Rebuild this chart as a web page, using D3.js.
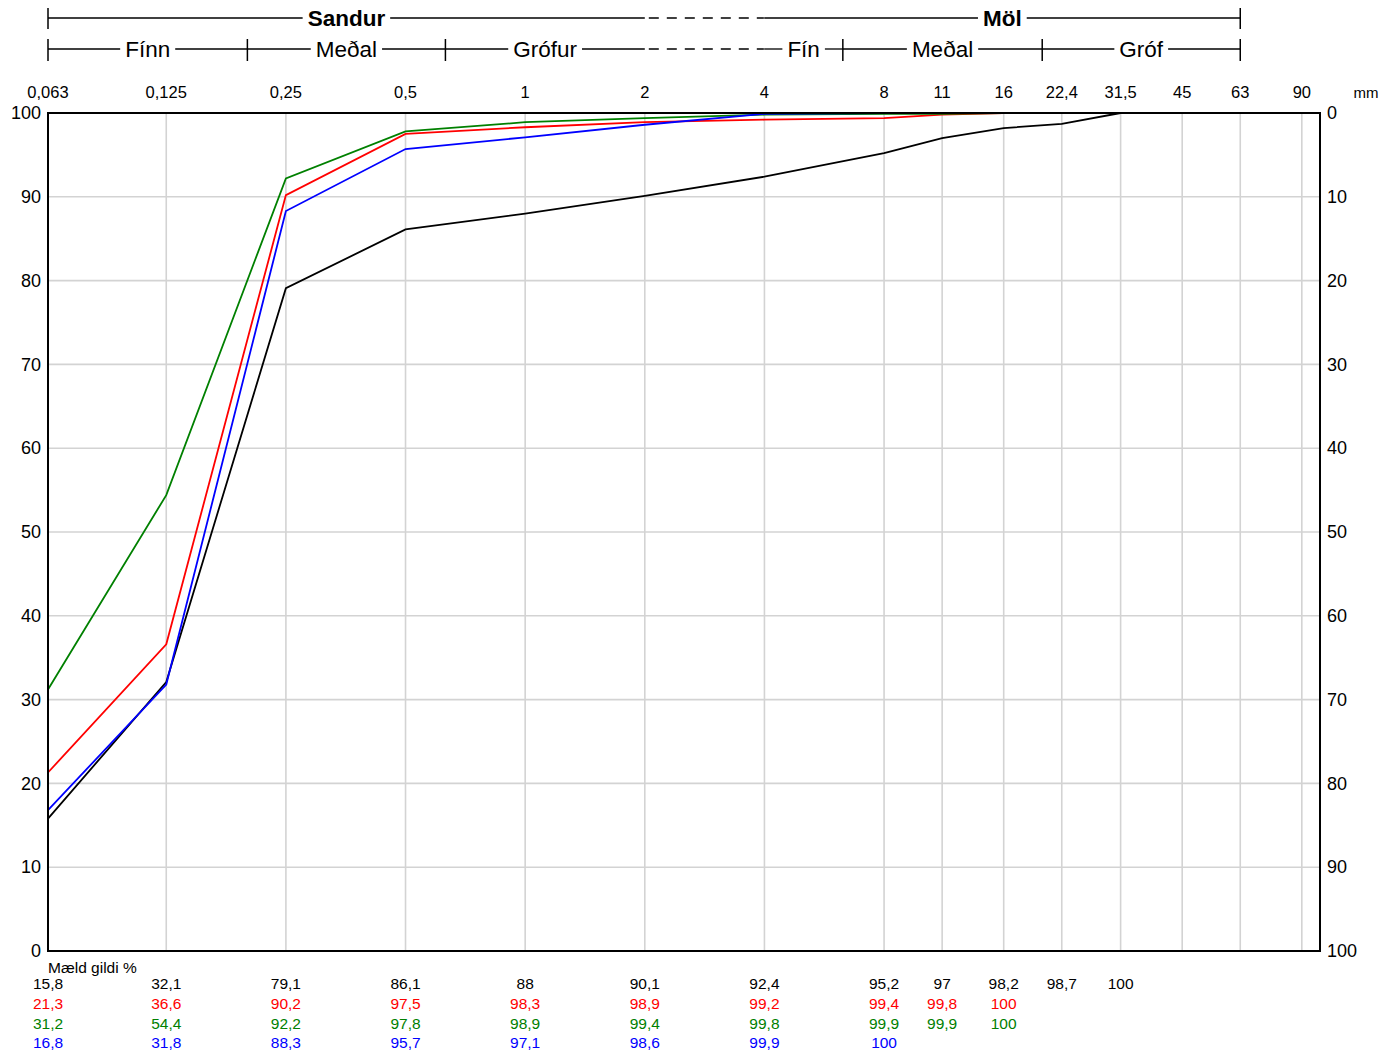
<!DOCTYPE html>
<html>
<head>
<meta charset="utf-8">
<script src="https://cdn.jsdelivr.net/npm/d3@7"></script>
<style>
  body { margin: 0; background: #fff; }
  text { font-family: "Liberation Sans", Arial, sans-serif; }
</style>
</head>
<body>
<div id="chart"></div>
<script>
// sieve sizes (mm) and their printed labels ("11" is the 11.2 mm sieve)
var sieves = [0.063, 0.125, 0.25, 0.5, 1, 2, 4, 8, 11.2, 16, 22.4, 31.5, 45, 63, 90];
var sieveLabels = ["0,063", "0,125", "0,25", "0,5", "1", "2", "4", "8", "11", "16", "22,4", "31,5", "45", "63", "90"];

// passing % per sample
var blackVals = [15.8, 32.1, 79.1, 86.1, 88, 90.1, 92.4, 95.2, 97, 98.2, 98.7, 100];
var redVals   = [21.3, 36.6, 90.2, 97.5, 98.3, 98.9, 99.2, 99.4, 99.8, 100];
var greenVals = [31.2, 54.4, 92.2, 97.8, 98.9, 99.4, 99.8, 99.9, 99.9, 100];
var blueVals  = [16.8, 31.8, 88.3, 95.7, 97.1, 98.6, 99.9, 100];

var series = [
  {vals: blackVals, color: "#000000"},
  {vals: redVals,   color: "#ff0000"},
  {vals: greenVals, color: "#008000"},
  {vals: blueVals,  color: "#0000ff"}
];

// soil class bands on top
var mainBands = [
  {from: 0.063, to: 2, label: "Sandur"},
  {from: 4, to: 63, label: "Möl"}
];
var subBands = [
  {from: 0.063, to: 0.2, label: "Fínn"},
  {from: 0.2, to: 0.63, label: "Meðal"},
  {from: 0.63, to: 2, label: "Grófur"},
  {from: 4, to: 6.3, label: "Fín"},
  {from: 6.3, to: 20, label: "Meðal"},
  {from: 20, to: 63, label: "Gróf"}
];
var subTicks = [0.063, 0.2, 0.63, 6.3, 20, 63];
var yTicks = d3.range(0, 101, 10);

var W = 1398, H = 1050;
// plot box (note: "top" is reserved on window, so use a margin object)
var box = {left: 48, right: 1320, top: 113, bottom: 951};

var svg = d3.select("#chart").append("svg")
  .attr("width", W).attr("height", H);

var x = d3.scaleLog().domain([0.063, 100]).range([box.left, box.right]);
var y = d3.scaleLinear().domain([0, 100]).range([box.bottom, box.top]);
var y2 = d3.scaleLinear().domain([100, 0]).range([box.bottom, box.top]);

// grid
svg.append("g").selectAll("line").data(sieves).enter().append("line")
  .attr("x1", d => x(d)).attr("x2", d => x(d))
  .attr("y1", box.top).attr("y2", box.bottom)
  .attr("stroke", "#d3d3d3").attr("stroke-width", 1.6);
svg.append("g").selectAll("line").data(yTicks).enter().append("line")
  .attr("x1", box.left).attr("x2", box.right)
  .attr("y1", d => y(d)).attr("y2", d => y(d))
  .attr("stroke", "#d3d3d3").attr("stroke-width", 1.6);

// curves
var line = d3.line()
  .x((d, i) => x(sieves[i]))
  .y(d => y(d));
svg.append("g").selectAll("path").data(series).enter().append("path")
  .attr("d", d => line(d.vals))
  .attr("fill", "none")
  .attr("stroke", d => d.color)
  .attr("stroke-width", 1.8);

// frame
svg.append("rect")
  .attr("x", box.left).attr("y", box.top)
  .attr("width", box.right - box.left).attr("height", box.bottom - box.top)
  .attr("fill", "none").attr("stroke", "#000").attr("stroke-width", 2);

// y axes
var leftAxis = d3.axisLeft(y).tickValues(yTicks).tickSize(0).tickPadding(7);
var gL = svg.append("g").attr("transform", `translate(${box.left},0)`).call(leftAxis);
var rightAxis = d3.axisRight(y2).tickValues(yTicks).tickSize(0).tickPadding(7);
var gR = svg.append("g").attr("transform", `translate(${box.right},0)`).call(rightAxis);
[gL, gR].forEach(function(g) {
  g.select(".domain").remove();
  g.selectAll("text").attr("font-size", 18).attr("fill", "#000")
    .attr("font-family", "Liberation Sans, Arial, sans-serif");
});

// x labels on top
svg.append("g").selectAll("text").data(sieves).enter().append("text")
  .attr("x", d => x(d)).attr("y", 98)
  .attr("text-anchor", "middle").attr("font-size", 16.5)
  .text((d, i) => sieveLabels[i]);
svg.append("text").attr("x", 1366).attr("y", 98)
  .attr("text-anchor", "middle").attr("font-size", 15).text("mm");

// table of measured values
svg.append("text").attr("x", box.left).attr("y", 973)
  .attr("font-size", 15.5).text("Mæld gildi %");
series.forEach(function(s, r) {
  svg.append("g").selectAll("text").data(s.vals).enter().append("text")
    .attr("x", (d, i) => x(sieves[i]))
    .attr("y", 989 + r * 19.8)
    .attr("text-anchor", "middle")
    .attr("font-size", 15.5)
    .attr("fill", s.color)
    .text(d => String(d).replace(".", ","));
});

// band header: draws a line with a gap for the label
function bandRow(bands, yy, fontSize, weight) {
  bands.forEach(function(b) {
    var x0 = x(b.from), x1 = x(b.to), cx = (x0 + x1) / 2;
    var t = svg.append("text").attr("x", cx).attr("y", yy + fontSize * 0.36)
      .attr("text-anchor", "middle").attr("font-size", fontSize)
      .attr("font-weight", weight).text(b.label);
    var w = t.node().getComputedTextLength();
    var gap = 5;
    svg.append("line").attr("x1", x0).attr("x2", cx - w / 2 - gap)
      .attr("y1", yy).attr("y2", yy).attr("stroke", "#000").attr("stroke-width", 1.3);
    svg.append("line").attr("x1", cx + w / 2 + gap).attr("x2", x1)
      .attr("y1", yy).attr("y2", yy).attr("stroke", "#000").attr("stroke-width", 1.3);
  });
  // dashed bridge between sand and gravel
  svg.append("line").attr("x1", x(2) + 4).attr("x2", x(4))
    .attr("y1", yy).attr("y2", yy)
    .attr("stroke", "#000").attr("stroke-width", 1.3)
    .attr("stroke-dasharray", "10,8");
}

bandRow(mainBands, 18, 22.5, "bold");
bandRow(subBands, 49, 22.5, "normal");

// end ticks of the top row
svg.append("g").selectAll("line").data([0.063, 63]).enter().append("line")
  .attr("x1", d => x(d)).attr("x2", d => x(d))
  .attr("y1", 8).attr("y2", 29)
  .attr("stroke", "#000").attr("stroke-width", 1.5);
// ticks of the second row
svg.append("g").selectAll("line").data(subTicks).enter().append("line")
  .attr("x1", d => x(d)).attr("x2", d => x(d))
  .attr("y1", 39).attr("y2", 61)
  .attr("stroke", "#000").attr("stroke-width", 1.5);
</script>
</body>
</html>
